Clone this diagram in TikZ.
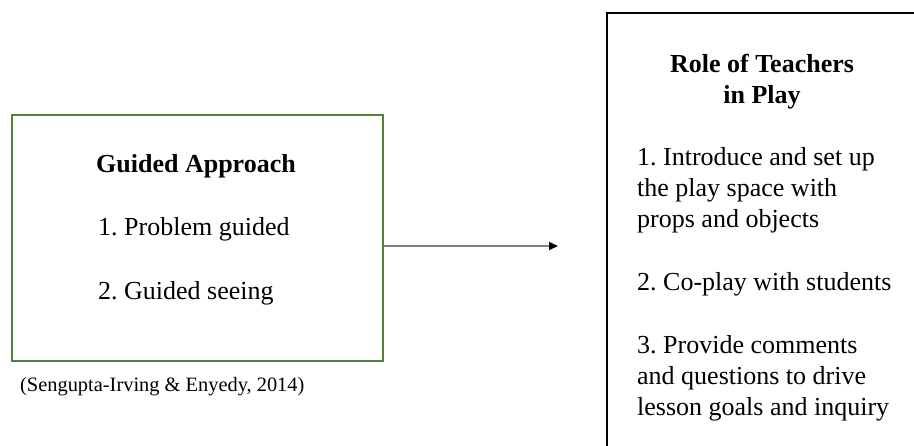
\documentclass[tikz,border=0pt]{standalone}
\usepackage{fontspec}
\setmainfont{Liberation Serif}
\usetikzlibrary{arrows.meta}
\definecolor{boxgreen}{RGB}{84,130,53}
\definecolor{linegray}{RGB}{128,128,128}
\frenchspacing
\tikzset{
  bigtext/.style={font=\fontsize{26}{31}\selectfont, inner sep=0pt},
  headtext/.style={font=\fontsize{26}{31}\selectfont\bfseries, inner sep=0pt},
  smalltext/.style={font=\fontsize{20.4}{24}\selectfont, inner sep=0pt},
}
\begin{document}
\begin{tikzpicture}[x=1pt,y=-1pt]
\useasboundingbox (0,0) rectangle (914,445);
\clip (0,0) rectangle (914,445);

% left box: guided approach
\node[draw=boxgreen, line width=2pt, minimum width=371pt, minimum height=246pt,
      inner sep=0pt, anchor=north west] (gbox) at (11,114) {};
\node[headtext, anchor=base] (gtitle) at (196,172) {Guided Approach};
\node[bigtext, anchor=base west] (g1) at (98,235) {1. Problem guided};
\node[bigtext, anchor=base west] (g2) at (98,299) {2. Guided seeing};
\node[smalltext, anchor=base west] (cite) at (20,391) {(Sengupta-Irving \& Enyedy, 2014)};

% right box: role of teachers (runs past the page edge)
\node[draw=black, line width=2pt, minimum width=340pt, minimum height=460pt,
      inner sep=0pt, anchor=north west] (rbox) at (606,12) {};
\node[headtext, anchor=base] (rt1) at (762,72) {Role of Teachers};
\node[headtext, anchor=base] (rt2) at (762,103) {in Play};
\node[bigtext, anchor=base west] (r1a) at (637,165) {1. Introduce and set up};
\node[bigtext, anchor=base west] (r1b) at (637,196) {the play space with};
\node[bigtext, anchor=base west] (r1c) at (637,227) {props and objects};
\node[bigtext, anchor=base west] (r2) at (637,290) {2. Co-play with students};
\node[bigtext, anchor=base west] (r3a) at (637,353) {3. Provide comments};
\node[bigtext, anchor=base west] (r3b) at (637,384) {and questions to drive};
\node[bigtext, anchor=base west] (r3c) at (637,415) {lesson goals and inquiry};

% connector
\coordinate (arrowend) at (558,246);
\draw[linegray, line width=2pt, -{Triangle[length=9pt,width=8pt,black]}]
  (gbox.east |- arrowend) -- (arrowend);
\end{tikzpicture}
\end{document}
